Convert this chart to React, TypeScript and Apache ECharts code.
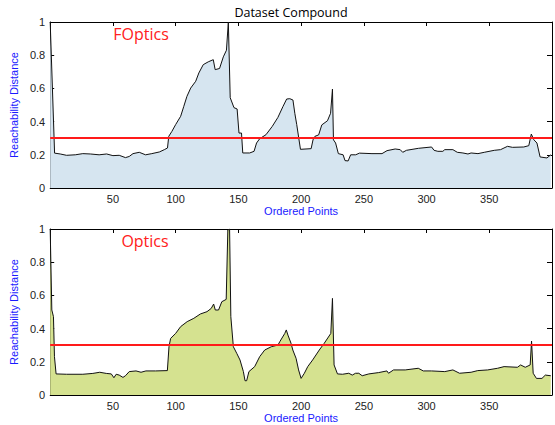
import React, { useEffect, useRef } from "react";
import * as echarts from "echarts";

// FOptics reachability plot (ordered point index, reachability distance)
const fopticsX = [0, 3.5, 8, 13, 20, 26, 32, 39, 45, 50, 55, 60, 63, 66, 71, 76, 81, 87, 91, 93.5, 94.5, 97, 100, 104, 106.5, 109, 112, 116, 118.5, 122, 126, 130, 131.5, 135, 138, 140.5, 142, 143.5, 146.5, 149, 150.5, 152.5, 153.5, 159, 162.5, 164.5, 167, 172, 177, 181.5, 185.5, 188.5, 191, 193.5, 195, 196.5, 199.5, 208, 209.5, 211, 214, 216.5, 221, 223.5, 225, 225.8, 227.5, 229.7, 233.5, 235, 237.5, 239.5, 243.5, 246.5, 256.5, 264.5, 268.5, 275, 279, 281, 284, 293.5, 304, 306, 309, 313, 314.5, 321, 324.5, 329, 333, 335.5, 341, 346, 354, 359, 364.5, 368.5, 377.5, 381.5, 383.5, 385.5, 388, 390.5, 396, 399];
const fopticsY = [1.0, 0.21, 0.205, 0.197, 0.2, 0.207, 0.205, 0.2, 0.205, 0.195, 0.197, 0.183, 0.19, 0.207, 0.215, 0.2, 0.207, 0.217, 0.231, 0.241, 0.311, 0.341, 0.382, 0.432, 0.492, 0.552, 0.602, 0.643, 0.693, 0.743, 0.76, 0.773, 0.713, 0.72, 0.79, 0.83, 1.0, 0.544, 0.484, 0.476, 0.331, 0.331, 0.211, 0.211, 0.221, 0.271, 0.297, 0.321, 0.371, 0.425, 0.49, 0.536, 0.538, 0.53, 0.45, 0.383, 0.233, 0.237, 0.29, 0.311, 0.32, 0.38, 0.405, 0.45, 0.596, 0.29, 0.271, 0.207, 0.2, 0.165, 0.163, 0.2, 0.2, 0.21, 0.207, 0.207, 0.225, 0.235, 0.231, 0.215, 0.227, 0.239, 0.247, 0.227, 0.221, 0.221, 0.231, 0.231, 0.215, 0.211, 0.205, 0.211, 0.207, 0.215, 0.227, 0.231, 0.251, 0.245, 0.247, 0.255, 0.325, 0.291, 0.271, 0.187, 0.181, 0.2];

// Optics reachability plot
const opticsX = [0, 1.3, 2.6, 3.4, 4.7, 13, 26, 34, 39.5, 44.7, 48.7, 50.8, 52.6, 55, 58, 60, 63, 68.4, 72.4, 76.3, 84, 93.4, 94.7, 96, 100, 104, 109.2, 114.5, 119.7, 125, 128.4, 130.3, 131.6, 134.2, 136.8, 140.3, 141.6, 143, 144, 146, 148.7, 151.3, 154, 155.3, 156.6, 158.4, 163, 167, 171, 176.3, 181.6, 183, 187, 188.2, 189.5, 192, 193.4, 196, 198, 200, 202.6, 205.3, 209.2, 214.5, 218.4, 223.7, 225, 226.3, 229, 233, 238, 240.8, 243.4, 246, 248.7, 254, 261.8, 268.4, 269.7, 273.7, 283, 293.4, 297.4, 304, 314.5, 321, 326.3, 335.5, 340.8, 348.7, 356.6, 361.8, 372.4, 375, 378.7, 382.6, 383.7, 385, 387.6, 392, 394.7, 399];
const opticsY = [1.0, 0.512, 0.472, 0.231, 0.127, 0.125, 0.125, 0.13, 0.137, 0.13, 0.127, 0.104, 0.125, 0.12, 0.106, 0.116, 0.141, 0.145, 0.137, 0.145, 0.145, 0.147, 0.291, 0.341, 0.371, 0.412, 0.442, 0.462, 0.488, 0.502, 0.522, 0.548, 0.512, 0.512, 0.562, 0.576, 0.994, 1.0, 0.472, 0.291, 0.251, 0.211, 0.141, 0.086, 0.086, 0.141, 0.171, 0.231, 0.271, 0.291, 0.301, 0.321, 0.371, 0.392, 0.361, 0.311, 0.271, 0.221, 0.151, 0.1, 0.131, 0.171, 0.211, 0.271, 0.311, 0.371, 0.582, 0.181, 0.127, 0.125, 0.131, 0.12, 0.131, 0.131, 0.116, 0.127, 0.135, 0.145, 0.131, 0.151, 0.151, 0.161, 0.145, 0.145, 0.141, 0.151, 0.131, 0.137, 0.147, 0.151, 0.161, 0.171, 0.167, 0.181, 0.167, 0.181, 0.325, 0.131, 0.1, 0.1, 0.12, 0.116];

const threshold = 0.3;
const xRange = [0, 400];
const yRange = [0, 1];
const titleText = "Dataset Compound";
const panelLabels = ["FOptics", "Optics"];
const xName = "Ordered Points";
const yName = "Reachability Distance";

const LABEL_FONT = "Liberation Sans";

function zip(xs: number[], ys: number[]) {
  return xs.map((x, i) => [x, ys[i]]);
}

export default function App() {
  const ref = useRef<HTMLDivElement>(null);
  useEffect(() => {
    if (!ref.current) return;
    const chart = echarts.init(ref.current, undefined, { renderer: "svg" });
    const grids = [
      { left: 50, right: -1.5, top: 22, height: 166 },
      { left: 50, right: -1.5, top: 229, height: 166 },
    ];
    const xAxes: any[] = [];
    const yAxes: any[] = [];
    grids.forEach((_, gi) => {
      const base = {
        type: "value",
        gridIndex: gi,
        min: xRange[0],
        max: xRange[1],
        interval: 50,
        splitLine: { show: false },
        axisLine: { show: true, onZero: false, lineStyle: { color: "#000", width: 1 } },
        axisTick: { show: true, inside: true, length: 4, lineStyle: { color: "#000" } },
      };
      xAxes.push({
        ...base,
        position: "bottom",
        name: xName,
        nameLocation: "middle",
        nameGap: 17,
        nameTextStyle: { color: "#1a1aff", fontFamily: LABEL_FONT, fontSize: 11 },
        axisLabel: {
          show: true,
          margin: 5,
          color: "#222",
          fontFamily: LABEL_FONT,
          fontSize: 11,
          formatter: (v: number) => (v > xRange[0] && v < xRange[1] ? String(v) : ""),
        },
      });
      xAxes.push({ ...base, position: "top", axisLabel: { show: false } });
      const ybase = {
        type: "value",
        gridIndex: gi,
        min: yRange[0],
        max: yRange[1],
        interval: 0.2,
        splitLine: { show: false },
        axisLine: { show: true, onZero: false, lineStyle: { color: "#000", width: 1 } },
        axisTick: { show: true, inside: true, length: 4, lineStyle: { color: "#000" } },
      };
      yAxes.push({
        ...ybase,
        position: "left",
        name: yName,
        nameLocation: "middle",
        nameGap: 22,
        nameTextStyle: { color: "#1a1aff", fontFamily: LABEL_FONT, fontSize: 11 },
        axisLabel: { show: true, margin: 5, color: "#222", fontFamily: LABEL_FONT, fontSize: 11 },
      });
      yAxes.push({
        ...ybase,
        position: "right",
        axisLabel: { show: false },
        axisTick: { show: true, inside: true, length: 5, lineStyle: { color: "#000" } },
      });
    });

    const mk = {
      symbol: "none",
      silent: true,
      label: { show: false },
      lineStyle: { color: "#ff1a1a", width: 2, type: "solid" },
      data: [{ yAxis: threshold }],
    };

    chart.setOption({
      animation: false,
      grid: grids,
      xAxis: xAxes,
      yAxis: yAxes,
      series: [
        {
          type: "line",
          xAxisIndex: 0,
          yAxisIndex: 0,
          data: zip(fopticsX, fopticsY),
          showSymbol: false,
          lineStyle: { color: "#111", width: 1 },
          areaStyle: { color: "#d6e5f0", opacity: 1 },
          markLine: mk,
          z: 2,
        },
        {
          type: "line",
          xAxisIndex: 2,
          yAxisIndex: 2,
          data: zip(opticsX, opticsY),
          showSymbol: false,
          lineStyle: { color: "#111", width: 1 },
          areaStyle: { color: "#d5e290", opacity: 1 },
          markLine: mk,
          z: 2,
        },
      ],
      graphic: [
        {
          type: "text",
          x: 291,
          y: 12,
          style: {
            text: titleText,
            font: '12.5px "Open Sans"',
            fill: "#000",
            align: "center",
            verticalAlign: "middle",
            textAlign: "center",
            textVerticalAlign: "middle",
          },
        },
        {
          type: "text",
          x: 141,
          y: 34,
          z: 10,
          style: {
            text: panelLabels[0],
            font: '16px "Open Sans"',
            fill: "#ff2020",
            align: "center",
            verticalAlign: "middle",
            textAlign: "center",
            textVerticalAlign: "middle",
          },
        },
        {
          type: "text",
          x: 145,
          y: 241,
          z: 10,
          style: {
            text: panelLabels[1],
            font: '16px "Open Sans"',
            fill: "#ff2020",
            align: "center",
            verticalAlign: "middle",
            textAlign: "center",
            textVerticalAlign: "middle",
          },
        },
      ],
    });
    return () => chart.dispose();
  }, []);
  return (
    <div
      ref={ref}
      style={{ position: "fixed", left: 0, top: 0, width: 555, height: 425, background: "#fff" }}
    />
  );
}
